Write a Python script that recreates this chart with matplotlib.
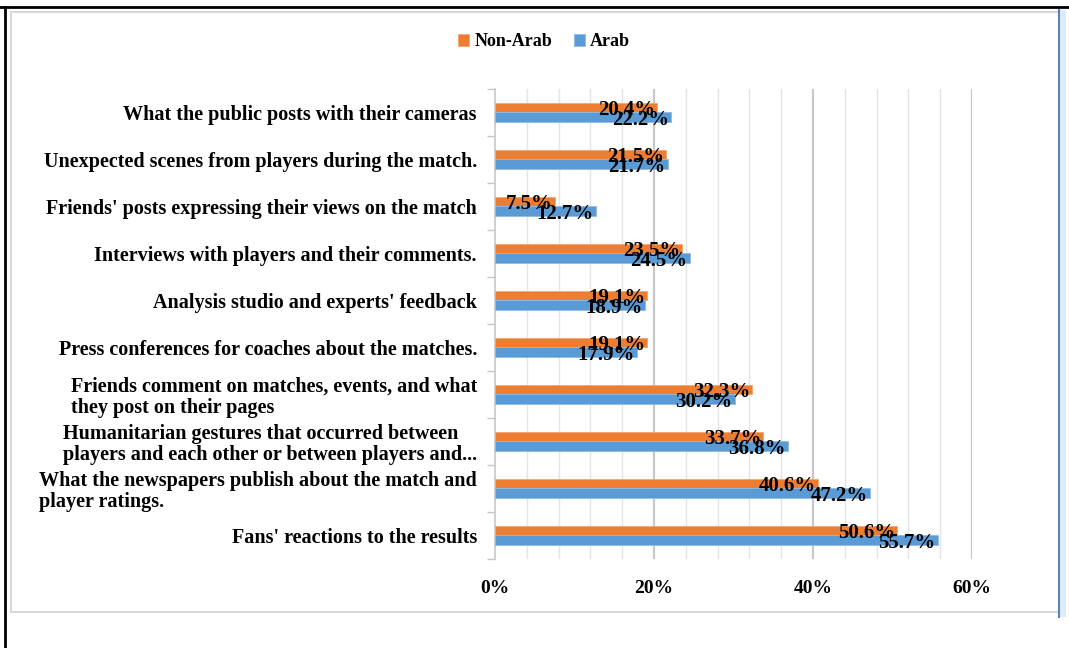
import matplotlib.pyplot as plt
from matplotlib.patches import Rectangle
from matplotlib.lines import Line2D
import numpy as np

# Sources of match content, top to bottom
categories = [
    "What the public posts with their cameras",
    "Unexpected scenes from players during the match.",
    "Friends' posts expressing their views on the match",
    "Interviews with players and their comments.",
    "Analysis studio and experts' feedback",
    "Press conferences for coaches about the matches.",
    "Friends comment on matches, events, and what\nthey post on their pages",
    "Humanitarian gestures that occurred between\nplayers and each other or between players and...",
    "What the newspapers publish about the match and\nplayer ratings.",
    "Fans' reactions to the results",
]
non_arab = [20.4, 21.5, 7.5, 23.5, 19.1, 19.1, 32.3, 33.7, 40.6, 50.6]
arab = [22.2, 21.7, 12.7, 24.5, 18.9, 17.9, 30.2, 36.8, 47.2, 55.7]
xticks = [0, 20, 40, 60]

orange = "#ED7D31"
blue = "#5B9BD5"
serif = ["Liberation Serif", "DejaVu Serif"]

fig = plt.figure(figsize=(10.69, 6.48), dpi=100)
W, H = 1069, 648

# page frame and chart box
fig.add_artist(Line2D([0, W], [H - 7, H - 7], transform=None, color="black", lw=2))
fig.add_artist(Line2D([5, 5], [0, H - 7], transform=None, color="black", lw=2))
fig.add_artist(Rectangle((11, H - 612), 1048, 600, transform=None, fill=False,
                         edgecolor="#d0d0d0", lw=1.2))
fig.add_artist(Rectangle((1060, H - 617), 6, 607, transform=None,
                         facecolor="#dcecfb", edgecolor="none"))
fig.add_artist(Line2D([1059, 1059], [H - 617, H - 10], transform=None,
                      color="#5a82b4", lw=1.5))

ax = fig.add_axes([495 / W, 1 - 559 / H, (972 - 495) / W, (559 - 89) / H])

y = np.arange(len(categories))
h = 0.2
ax.barh(y - h / 2, non_arab, height=h, color=orange, edgecolor="#f4a672", lw=0.6,
        label="Non-Arab", zorder=3)
ax.barh(y + h / 2, arab, height=h, color=blue, edgecolor="#8fbbe3", lw=0.6,
        label="Arab", zorder=3)

for i in range(len(categories)):
    ax.text(non_arab[i] - 0.2, i - h / 2 + 0.04, f"{non_arab[i]:.1f}%", ha="right",
            va="center", fontsize=15, fontweight="bold", family=serif, zorder=4)
    ax.text(arab[i] - 0.3, i + h / 2 + 0.07, f"{arab[i]:.1f}%", ha="right",
            va="center", fontsize=15, fontweight="bold", family=serif, zorder=4)

ax.set_xlim(0, 60)
ax.set_ylim(len(categories) - 0.5, -0.5)

# light grid every 4%, darker at the labelled ticks
for v in np.arange(4, 61, 4):
    major = v % 20 == 0
    ax.axvline(v, color="#c8c8c8" if major else "#e4e4e4",
               lw=1.6 if major else 1.0, zorder=1)

ax.set_xticks(xticks)
ax.set_xticklabels([f"{t}%" for t in xticks], fontsize=14, fontweight="bold",
                   family=serif)
ax.tick_params(axis="x", length=0, pad=15)

ax.set_yticks(y)
ax.set_yticklabels(categories, fontsize=14.5, fontweight="bold", family=serif,
                   multialignment="left", linespacing=1.05)
ax.set_yticks(np.arange(len(categories) + 1) - 0.5, minor=True)
ax.tick_params(axis="y", which="major", length=0, pad=13)
ax.tick_params(axis="y", which="minor", length=6, color="#c8c8c8", width=1)

for s in ["top", "right", "bottom"]:
    ax.spines[s].set_visible(False)
ax.spines["left"].set_color("#c8c8c8")
ax.spines["left"].set_linewidth(1.2)

leg = fig.legend(loc="center", bbox_to_anchor=(544 / W, 1 - 42 / H), ncol=2,
                 frameon=False, prop={"family": serif, "weight": "bold", "size": 13},
                 handlelength=0.6, handleheight=0.6, handletextpad=0.3,
                 columnspacing=1.2)

fig.savefig("out.png", dpi=100)
